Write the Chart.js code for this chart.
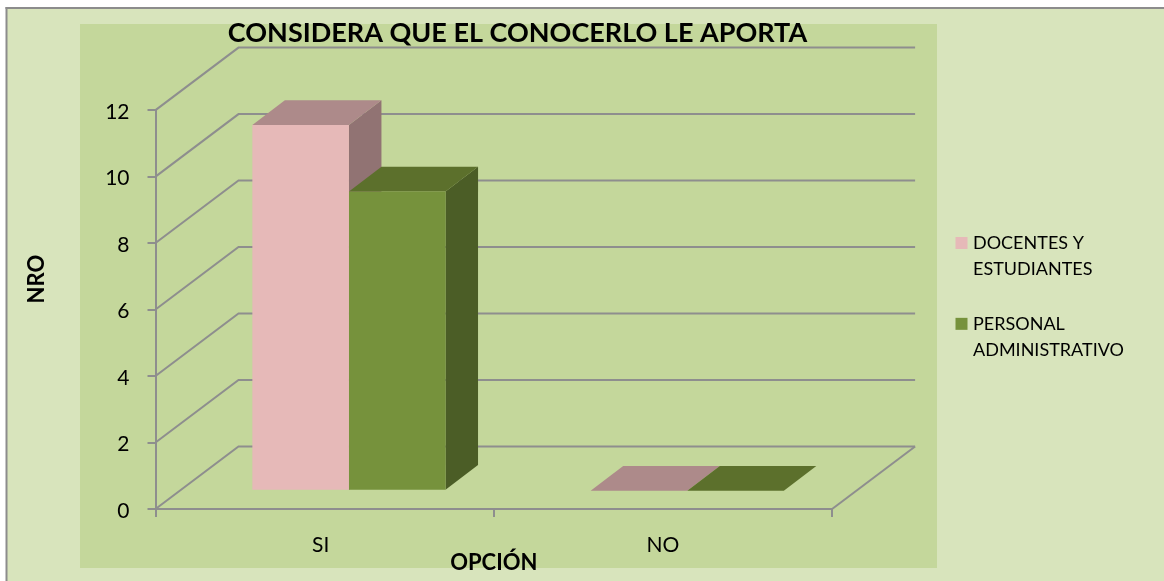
<!DOCTYPE html>
<html><head><meta charset="utf-8">
<style>html,body{margin:0;padding:0;background:#fff}canvas{display:block}</style>
<script src="https://cdn.jsdelivr.net/npm/chart.js@4/dist/chart.umd.min.js"></script>
</head><body><canvas id="c" width="1164" height="581"></canvas>
<script>
const categories = ['SI', 'NO'];
const docentes = [11, 0];
const personal = [9, 0];
const docentesLabel = ['DOCENTES Y', 'ESTUDIANTES'];
const personalLabel = ['PERSONAL', 'ADMINISTRATIVO'];
const titleText = 'CONSIDERA QUE EL CONOCERLO LE APORTA';
const yTitle = 'NRO';
const xTitle = 'OPCIÓN';
const FONT = 'Lato';

const depth = {wallX: 83, wallY: 62.5, barX: 24.3, barY: 18.3, capX: 32.5, capY: 24.7};
const faces = [
  {front: '#E6B9B8', top: '#AD8A8A', side: '#917373'},
  {front: '#76923C', top: '#5C702C', side: '#4B5D26'}
];
const GRID = '#8E8E8E';

function poly(ctx, pts, fill) {
  ctx.fillStyle = fill;
  ctx.beginPath();
  pts.forEach((p, i) => i ? ctx.lineTo(p[0], p[1]) : ctx.moveTo(p[0], p[1]));
  ctx.closePath();
  ctx.fill();
}

const scene = {
  id: 'scene',
  afterLayout(chart) {
    const t = chart.titleBlock;
    t.left = 227; t.right = 808; t.width = 581;
    const l = chart.legend;
    const w = l.width;
    l.left = 930; l.right = 930 + w;
    l.top = 205; l.bottom = 205 + l.height;
    const yS = chart.scales.y;
    if (!yS._titleMoved) {
      yS._titleMoved = true;
      const orig = yS.drawTitle;
      yS.drawTitle = function () {
        const b = this.bottom;
        this.bottom = b - 61;
        orig.call(this);
        this.bottom = b;
      };
    }
  },
  beforeDraw(chart) {
    const c = chart.ctx;
    c.save();
    c.fillStyle = '#fff'; c.fillRect(0, 0, 1164, 581);
    c.fillStyle = '#D8E4BC'; c.fillRect(6, 8, 1158, 573);
    c.fillStyle = '#C4D79B'; c.fillRect(80, 24, 857, 544);
    c.fillStyle = '#8C8C8C';
    c.fillRect(5.5, 7, 2, 574);
    c.fillRect(5.5, 7, 1158.5, 2);
    c.restore();
    const xItems = chart.scales.x.getLabelItems(chart.chartArea);
    if (xItems[0] && !xItems._moved) { xItems._moved = true; xItems[0].options.translation[0] -= 4; }
    const yItems = chart.scales.y.getLabelItems(chart.chartArea);
    if (!yItems._moved) { yItems._moved = true; yItems.forEach(it => { it.options.translation[1] += 2; }); }
  },
  beforeDatasetsDraw(chart) {
    const c = chart.ctx, x = chart.scales.x, y = chart.scales.y;
    c.save();
    c.strokeStyle = GRID; c.lineWidth = 2;
    y.ticks.forEach(t => {
      const py = y.getPixelForValue(t.value);
      c.beginPath();
      c.moveTo(x.left, py);
      c.lineTo(x.left + depth.wallX, py - depth.wallY);
      c.lineTo(x.right + depth.wallX, py - depth.wallY);
      c.stroke();
    });
    const y0 = y.getPixelForValue(0);
    c.beginPath();
    c.moveTo(x.right, y0);
    c.lineTo(x.right + depth.wallX, y0 - depth.wallY);
    c.stroke();
    chart.data.datasets.forEach((d, i) => {
      const f = faces[i];
      chart.getDatasetMeta(i).data.forEach(b => {
        const l = b.x - b.width / 2 + depth.barX, r = b.x + b.width / 2 + depth.barX;
        const tp = b.y - depth.barY, bt = b.base - depth.barY;
        poly(c, [[r, tp], [r + depth.capX, tp - depth.capY], [r + depth.capX, bt - depth.capY], [r, bt]], f.side);
        poly(c, [[l, tp], [r, tp], [r + depth.capX, tp - depth.capY], [l + depth.capX, tp - depth.capY]], f.top);
      });
    });
    c.restore();
  },
  beforeDatasetDraw(chart) {
    chart.ctx.save();
    chart.ctx.translate(depth.barX, -depth.barY);
  },
  afterDatasetDraw(chart) {
    chart.ctx.restore();
  }
};

new Chart(document.getElementById('c'), {
  type: 'bar',
  plugins: [scene],
  data: {
    labels: categories,
    datasets: [
      {label: docentesLabel, data: docentes, backgroundColor: faces[0].front, borderWidth: 0, categoryPercentage: 0.571, barPercentage: 1},
      {label: personalLabel, data: personal, backgroundColor: faces[1].front, borderWidth: 0, categoryPercentage: 0.571, barPercentage: 1}
    ]
  },
  options: {
    responsive: false,
    animation: false,
    layout: {padding: {left: 24, top: 0, right: 128, bottom: 0}},
    plugins: {
      tooltip: {enabled: false},
      title: {display: true, text: titleText, color: '#000', padding: {top: 16, bottom: 59},
        font: {family: FONT, size: 27, weight: 'bold', lineHeight: 1.3}},
      legend: {position: 'right', align: 'start',
        labels: {boxWidth: 5, boxHeight: 12, usePointStyle: true, pointStyle: 'rect', padding: 29, color: '#000',
          font: {family: FONT, size: 18, lineHeight: 1.44}}}
    },
    scales: {
      x: {
        grid: {drawOnChartArea: false, color: GRID, lineWidth: 2, tickLength: 8},
        border: {color: GRID, width: 2},
        ticks: {color: '#000', font: {family: FONT, size: 21}, padding: 16, maxRotation: 0},
        title: {display: true, text: xTitle, color: '#000', font: {family: FONT, size: 22, weight: 'bold'}, padding: {top: 0, bottom: 5}},
        afterFit(s) { s.height = 72; }
      },
      y: {
        min: 0, max: 12,
        grid: {drawOnChartArea: false, color: GRID, lineWidth: 2, tickLength: 8},
        border: {color: GRID, width: 2},
        ticks: {stepSize: 2, color: '#000', font: {family: FONT, size: 21}, padding: 18},
        title: {display: true, text: yTitle, color: '#000', font: {family: FONT, size: 22, weight: 'bold'}, padding: 0},
        afterFit(s) { s.width = 131.5; }
      }
    }
  }
});
</script></body></html>
